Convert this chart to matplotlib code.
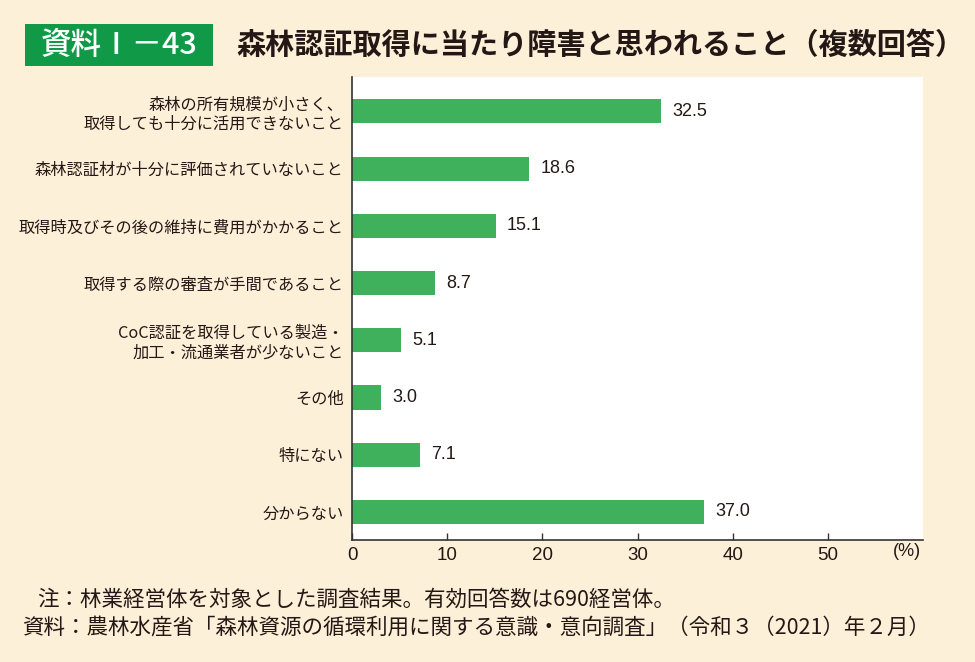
import matplotlib
matplotlib.use("Agg")
import matplotlib.pyplot as plt
from matplotlib.patches import Rectangle

plt.rcParams['font.family'] = ['Noto Sans CJK JP', 'DejaVu Sans']

# data
categories = [
    "森林の所有規模が小さく、\n取得しても十分に活用できないこと",
    "森林認証材が十分に評価されていないこと",
    "取得時及びその後の維持に費用がかかること",
    "取得する際の審査が手間であること",
    "CoC認証を取得している製造・\n加工・流通業者が少ないこと",
    "その他",
    "特にない",
    "分からない",
]
values = [32.5, 18.6, 15.1, 8.7, 5.1, 3.0, 7.1, 37.0]
xticks = [0, 10, 20, 30, 40, 50]

bg = "#FDF0D8"
bar_green = "#3FB05B"
badge_green = "#109A48"
txt = "#231815"
latin = ["Liberation Sans", "DejaVu Sans"]

fig = plt.figure(figsize=(9.75, 6.62), dpi=100, facecolor=bg)
W, H = 975, 662
ax = fig.add_axes([352 / W, 1 - 540 / H, (923 - 352) / W, (540 - 77) / H])
ax.set_facecolor("white")

ypos = list(range(len(categories)))
ax.barh(ypos, values, height=0.42, color=bar_green, zorder=2)
for y, v in zip(ypos, values):
    ax.text(v + 1.2, y, f"{v:.1f}", va="center", ha="left", fontsize=13,
            color=txt, family=latin)

ax.set_ylim(7.49, -0.6)
ax.set_xlim(0, 60)
ax.set_yticks(ypos)
ax.set_yticklabels(categories, fontsize=11.7, color=txt, linespacing=1.2)
ax.tick_params(axis="y", length=0, pad=6)
ax.set_xticks(xticks)
ax.set_xticklabels([str(t) for t in xticks], fontsize=13.5, color=txt, family=latin)
ax.tick_params(axis="x", direction="in", length=5, width=1, color="#333333", pad=5)
for s in ["top", "right"]:
    ax.spines[s].set_visible(False)
for s in ["left", "bottom"]:
    ax.spines[s].set_color("#333333")
    ax.spines[s].set_linewidth(1.2)

fig.text(907 / W, 1 - 552 / H, "(%)", fontsize=13, ha="center", va="center",
         color=txt, family=latin)

# title badge
fig.patches.append(Rectangle((25 / W, 1 - 66 / H), (213 - 25) / W, 42 / H,
                             transform=fig.transFigure, facecolor=badge_green,
                             edgecolor="none"))
fig.text(119 / W, 1 - 45 / H, "資料Ⅰ－43", color="white", fontsize=22,
         ha="center", va="center", fontweight="medium")
fig.text(236 / W, 1 - 45 / H, "森林認証取得に当たり障害と思われること（複数回答）",
         color=txt, fontsize=21, ha="left", va="center", fontweight="bold")

# notes
fig.text(37 / W, 1 - 600 / H, "注：林業経営体を対象とした調査結果。有効回答数は690経営体。",
         fontsize=15.5, color=txt, ha="left", va="center")
fig.text(22 / W, 1 - 628 / H,
         "資料：農林水産省「森林資源の循環利用に関する意識・意向調査」（令和３（2021）年２月）",
         fontsize=15.5, color=txt, ha="left", va="center")

fig.savefig("out.png", dpi=100, facecolor=bg)
